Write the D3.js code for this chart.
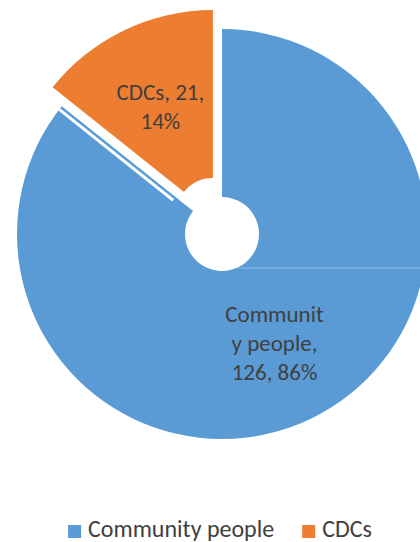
<!DOCTYPE html>
<html>
<head>
<meta charset="utf-8">
<script src="https://cdn.jsdelivr.net/npm/d3@7"></script>
<style>
  html, body { margin: 0; padding: 0; background: #fff; }
  svg { display: block; }
  text { font-family: Calibri, Carlito, Lato, "Open Sans", sans-serif; fill: #404040; }
</style>
</head>
<body>
<svg id="chart" width="420" height="542"></svg>
<script>
// Respondents by group
const categories = ["Community people", "CDCs"];
const values = [126, 21];
const colors = ["#5B9BD5", "#ED7D31"];

const W = 420, H = 542;
const cx = 222, cy = 234;
const outerR = 205, innerR = 37;
const explodeBy = [0, 21];
const fontSize = 23;
const legendFont = 24;
const lineH = 29;
const wrapWidth = 104;

const svg = d3.select("#chart");
const total = d3.sum(values);

const pie = d3.pie().sort(null).value(d => d);
const arcs = pie(values);
const arc = d3.arc().innerRadius(innerR).outerRadius(outerR);

// offset of each slice along its bisector
function shift(d, i) {
  const mid = (d.startAngle + d.endAngle) / 2;
  return [Math.sin(mid) * explodeBy[i], -Math.cos(mid) * explodeBy[i]];
}

const defs = svg.append("defs");
const root = svg.append("g").attr("transform", `translate(${cx},${cy})`);

const slices = root.selectAll("g.slice")
  .data(arcs)
  .join("g")
  .attr("class", "slice")
  .attr("transform", (d, i) => `translate(${shift(d, i)})`);

slices.append("path")
  .attr("d", arc)
  .attr("fill", (d, i) => colors[i]);

// thin seam just inside the closing edge of the first slice
const first = arcs[0];
defs.append("clipPath").attr("id", "clipFirst")
  .append("path").attr("d", arc(first));
const seamG = slices.filter((d, i) => i === 0).append("g")
  .attr("clip-path", "url(#clipFirst)");
seamG.append("line")
  .attr("transform", `rotate(${first.endAngle * 180 / Math.PI})`)
  .attr("x1", -4).attr("x2", -4)
  .attr("y1", -innerR * 1.6).attr("y2", -outerR - 10)
  .attr("stroke", "#fff").attr("stroke-width", 3);
// faint horizontal seam below the hole
const seamY = innerR * 0.92;
seamG.append("line")
  .attr("x1", Math.sqrt(innerR * innerR - seamY * seamY)).attr("x2", outerR + 10)
  .attr("y1", seamY).attr("y2", seamY)
  .attr("stroke", "#8dbbe7").attr("stroke-width", 1);

// wrap a label to a pixel width, breaking inside words when needed
function wrapLines(str, sizer) {
  const measure = s => { sizer.text(s); return sizer.node().getComputedTextLength(); };
  const lines = [];
  let cur = "";
  for (const ch of str) {
    const next = cur + ch;
    if (measure(next.trimEnd()) > wrapWidth && cur.trim().length) {
      const sp = cur.lastIndexOf(" ");
      if (ch !== " " && sp > 0) {
        lines.push(cur.slice(0, sp));
        cur = cur.slice(sp + 1) + ch;
      } else {
        lines.push(cur.trimEnd());
        cur = ch === " " ? "" : ch;
      }
    } else {
      cur = next;
    }
  }
  if (cur.trim().length) lines.push(cur.trim());
  return lines;
}

const sizer = svg.append("text").attr("font-size", fontSize).attr("visibility", "hidden");

slices.each(function (d, i) {
  const pct = Math.round(values[i] / total * 100);
  const label = `${categories[i]}, ${values[i]}, ${pct}%`;
  const lines = wrapLines(label, sizer);
  const [lx, ly] = arc.centroid(d);
  const t = d3.select(this).append("text")
    .attr("text-anchor", "middle")
    .attr("font-size", fontSize)
    .attr("x", lx)
    .attr("y", ly - (lines.length - 1) * lineH / 2)
    .attr("dy", "0.35em");
  lines.forEach((ln, k) => {
    t.append("tspan").attr("x", lx).attr("dy", k === 0 ? "0.35em" : lineH).text(ln);
  });
});
sizer.remove();

// legend
const legend = svg.append("g");
const sw = 13, gapText = 7, gapItem = 28;
let xPos = 0;
const items = legend.selectAll("g").data(categories).join("g");
items.each(function (c, i) {
  const g = d3.select(this);
  g.append("rect").attr("width", sw).attr("height", sw).attr("y", -sw + 1).attr("fill", colors[i]);
  const t = g.append("text").attr("x", sw + gapText).attr("font-size", legendFont).text(c);
  const w = sw + gapText + t.node().getComputedTextLength();
  g.attr("transform", `translate(${xPos},0)`);
  xPos += w + gapItem;
});
const legendW = xPos - gapItem;
legend.attr("transform", `translate(${(W - legendW) / 2 + 10},${537})`);
</script>
</body>
</html>
